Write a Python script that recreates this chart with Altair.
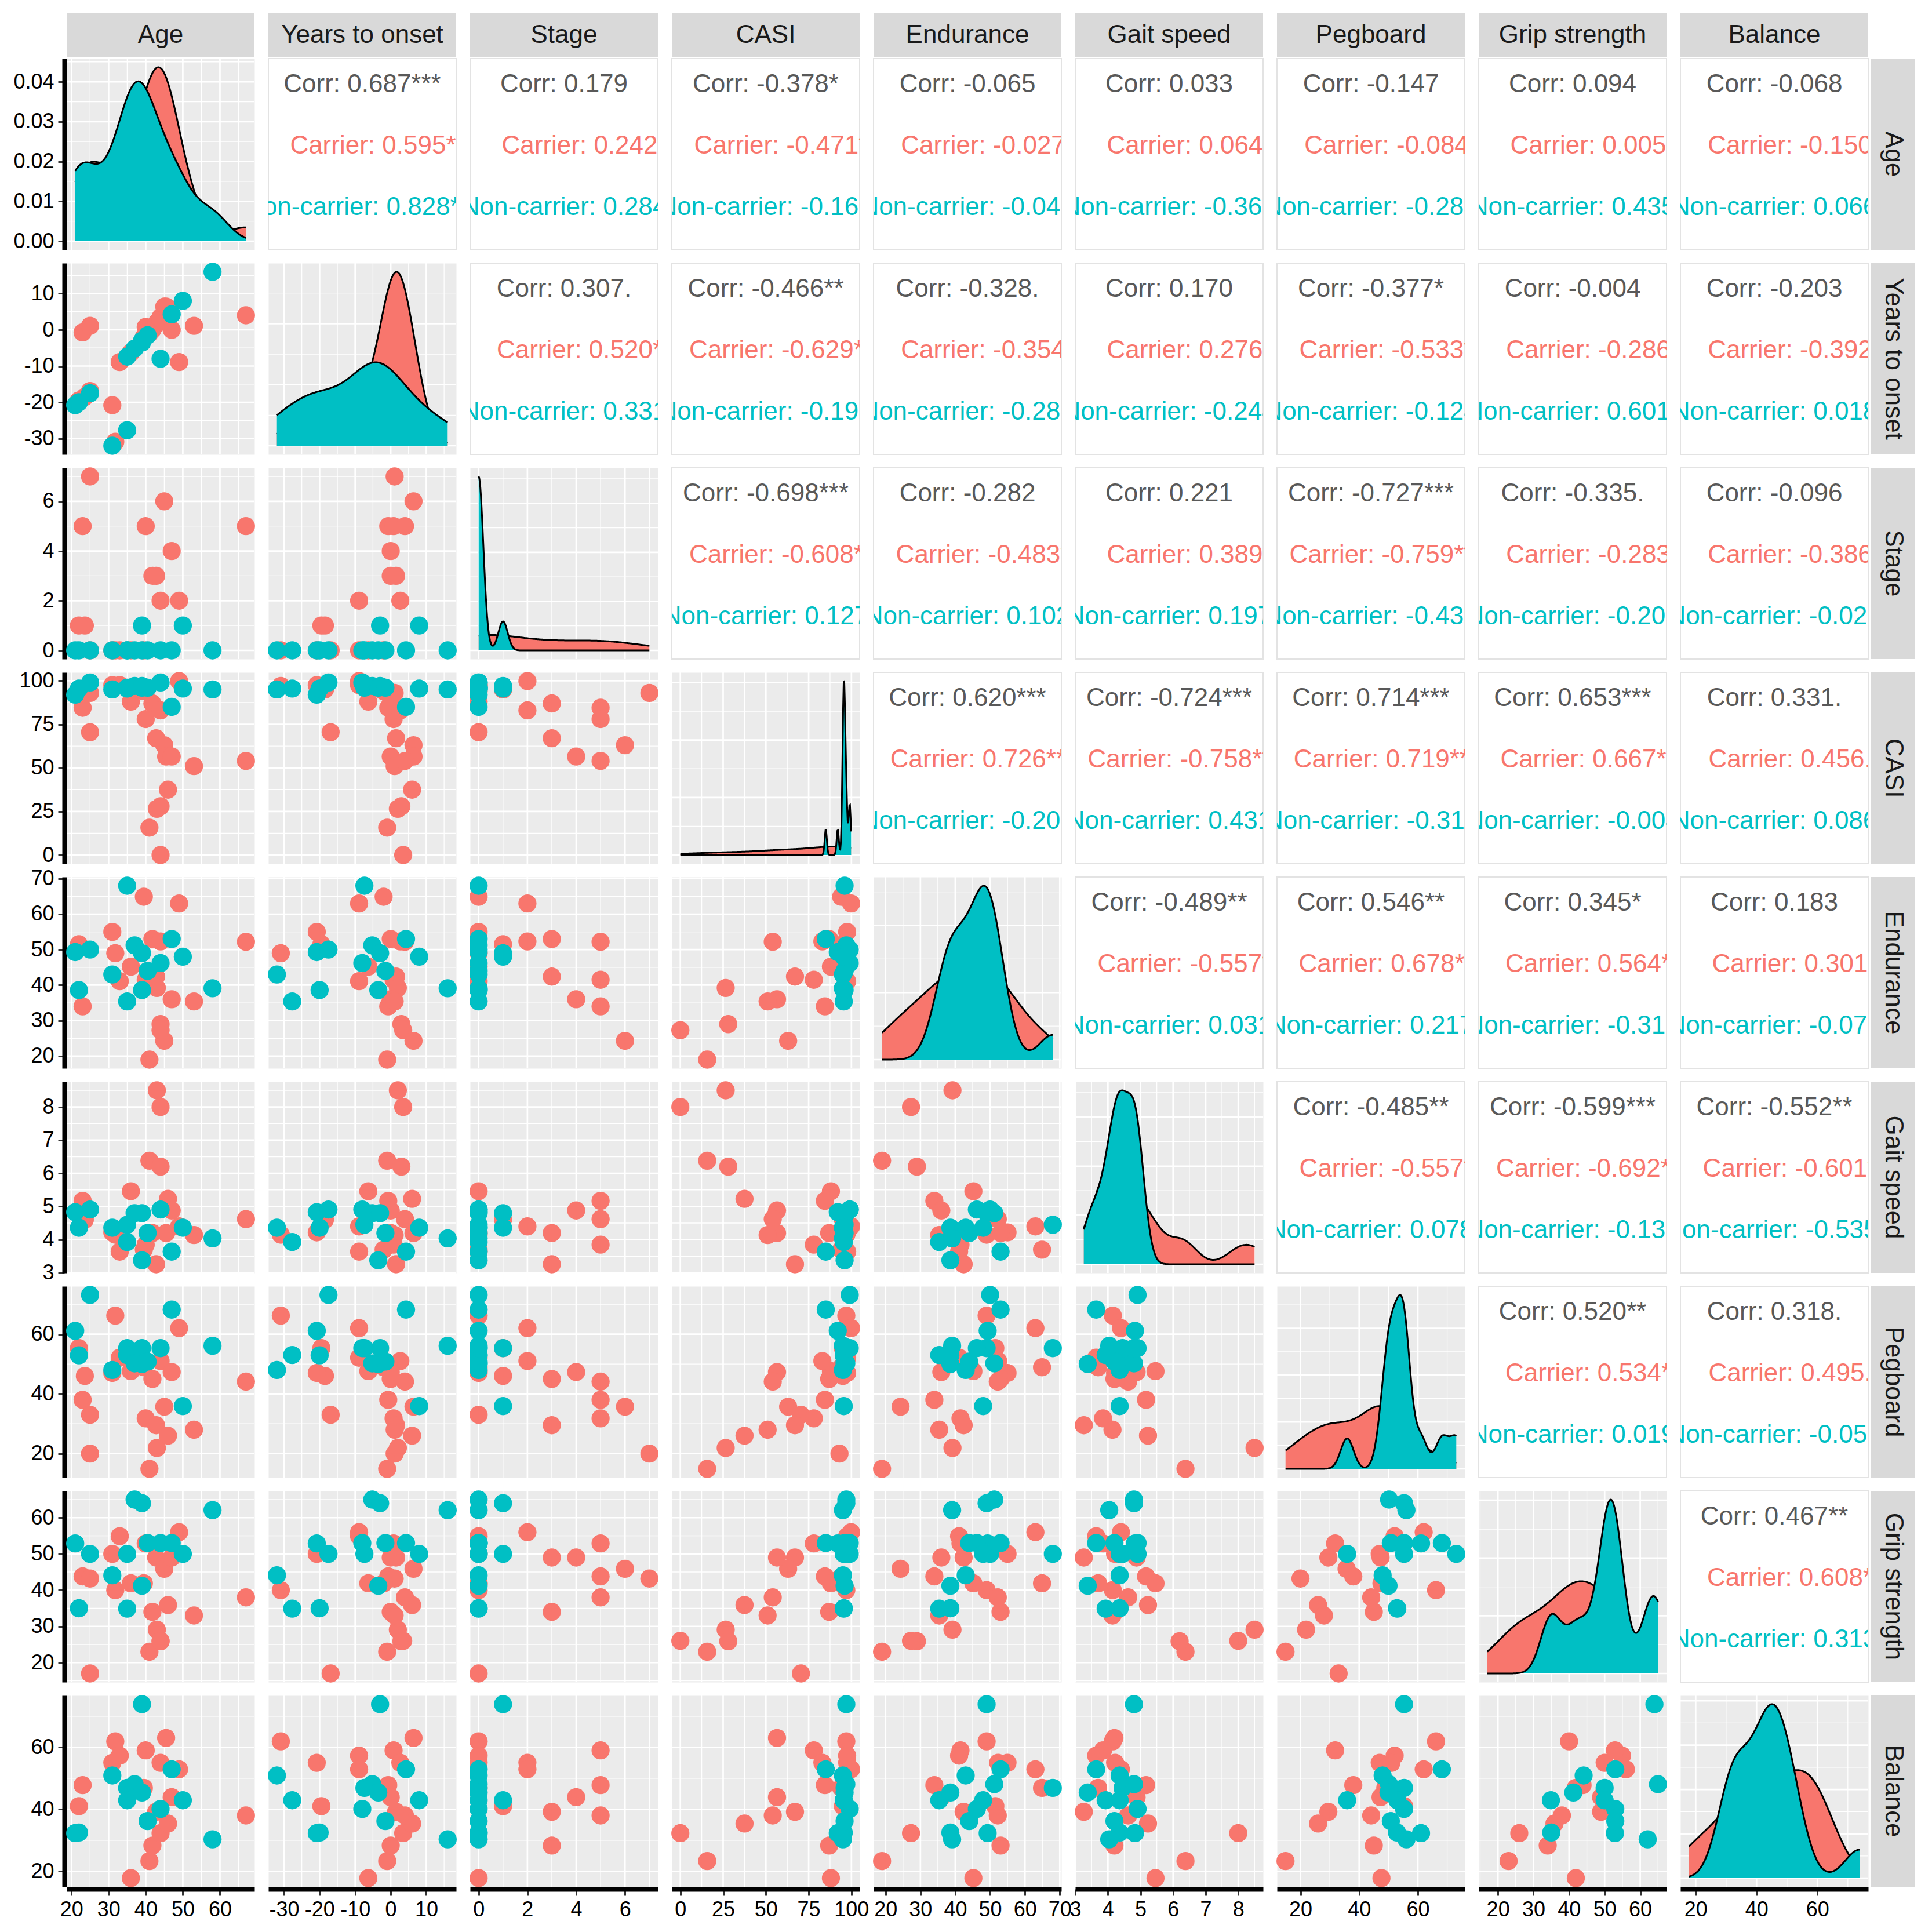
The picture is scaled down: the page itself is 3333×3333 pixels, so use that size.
import altair as alt
import numpy as np
import pandas as pd

FONT = "Liberation Sans"
RED = "#F8766D"
TEAL = "#00BFC4"
GREY_TXT = "#595959"
STRIP_FILL = "#D9D9D9"
PANEL_BG = "#EBEBEB"
GROUPS = ["Carrier", "Non-carrier"]

VAR_NAMES = ["Age", "Years to onset", "Stage", "CASI", "Endurance",
             "Gait speed", "Pegboard", "Grip strength", "Balance"]
FIELDS = ["age", "yto", "stage", "casi", "endur", "gait", "peg", "grip", "bal"]

nan = float("nan")

# ---- subject values (25 carriers, 14 non-carriers) ----
group = ["Carrier"] * 25 + ["Non-carrier"] * 14
age = [23, 25, 23.6, 22, 25,
       31, 31.8, 33, 36, 39.5, 40, 41, 41.8, 42.8, 43, 44, 44, 44, 45, 45.5, 46, 47, 49, 53, 67,
       21, 22, 25, 31, 35, 35, 37, 39, 39, 40.5, 44, 47, 50, 58]
yto = [-0.7, 1.1, -18.5, -19.5, -16.9,
       -20.8, -30.9, -8.9, -6.3, -2, 0.8, -1, 0, 1.5, 2, 2.7, 3, 3.5, 6.4, 6.4, 6, 0, -8.9, 1.1, 4,
       -20.8, -20, -17.5, -32, -7.4, -27.7, -5.2, -3, -3.5, -1.5, -8, 4.3, 8, 16]
stage = [5, 7, 1, 1, 0,
         0, 0, 0, 0, 0, 5, nan, 3, 3, nan, 2, nan, nan, 6, nan, nan, 4, 2, nan, 5,
         0, 0, 0, 0, 0, 0, 0, 1, 0, 0, 0, 0, 1, 0]
casi = [84.5, 93, 95, 95, 70.5,
        97.5, 97, 97.5, 88, 94, 78, 15.7, 87, 67, 26.5, 83, 28, 0, 63, 56.5, 37.5, 56.5, 99.8, 51, 54,
        92, 95.5, 99, 95, 96, 95.5, 97, 97, 96, 96, 99, 85, 95.5, 95]
endur = [34, nan, nan, 51.5, nan,
         55, 49, 41.1, 45.2, 64.9, 41.5, 19, 53, 42.4, 39.2, 52.3, 29, 27.3, 24.3, nan, nan, 36, 63, 35.4, 52.2,
         49.3, 38.6, 50, 43, 68, 35.4, 51.2, 49, 38.6, 44, 46.2, 53, 48, 39.1]
gait = [5.17, nan, 4.6, nan, nan,
        4.22, 4.15, 3.64, 5.46, 3.7, 3.85, 6.38, 4.2, 3.26, 8.5, nan, 6.2, 8.0, nan, 4.2, 5.23, 4.88, 4.4, 4.14, 4.62,
        4.83, 4.36, 4.91, 4.36, 4.45, 3.93, 4.8, 4.8, 3.38, 4.2, 4.91, 3.64, 4.36, 4.04]
peg = [38, 20, 46, 55.3, 33,
       47, 66.2, 52.1, 47.6, 48.9, 31.8, 14.9, 45, 29.5, 21.9, 51, nan, nan, 35.7, nan, 26, 47.3, 62, 28, 44.1,
       61.1, 52.9, 73.1, 48, 55.3, 53, 50.2, 55.3, 50, 50.8, 55.3, 68.2, 35.9, 56.1]
grip = [43.8, 43.2, nan, nan, 17,
        50, 40, 54.9, 41.9, 41.9, 52.9, 23, 34, 49, 29.1, nan, 25.9, 26, 45.9, nan, 35.9, 49, 56, 33, 38,
        52.9, 35, 50, 44.1, 50, 34.9, 65, 64, 41.2, 53, 53, 53, 50, 62.1]
bal = [47.8, nan, nan, 41, nan,
       55, 61.9, 57.3, 17.8, 46.9, 59, 23.3, 28.3, 39.2, nan, 55, nan, 32.3, nan, 63, 35.4, 43.9, 52.9, nan, 38,
       32.3, 32.5, nan, 50.9, 46.9, 42.9, 48.1, 73.9, 45.4, 36.2, 40.1, 52.9, 42.9, 30.3]

# ---- axis break labels ----
MAJOR = {
    "age": [20, 30, 40, 50, 60],
    "yto": [-30, -20, -10, 0, 10],
    "stage": [0, 2, 4, 6],
    "casi": [0, 25, 50, 75, 100],
    "endur": [20, 30, 40, 50, 60, 70],
    "gait": [3, 4, 5, 6, 7, 8],
    "peg": [20, 40, 60],
    "grip": [20, 30, 40, 50, 60],
    "bal": [20, 40, 60],
}
DENS_TICKS_AGE = [0.00, 0.01, 0.02, 0.03, 0.04]

# ---- correlation texts (upper triangle) ----
CORR_ALL = {
    (0, 1): "0.687***", (0, 2): "0.179", (0, 3): "-0.378*", (0, 4): "-0.065", (0, 5): "0.033",
    (0, 6): "-0.147", (0, 7): "0.094", (0, 8): "-0.068",
    (1, 2): "0.307.", (1, 3): "-0.466**", (1, 4): "-0.328.", (1, 5): "0.170", (1, 6): "-0.377*",
    (1, 7): "-0.004", (1, 8): "-0.203",
    (2, 3): "-0.698***", (2, 4): "-0.282", (2, 5): "0.221", (2, 6): "-0.727***", (2, 7): "-0.335.",
    (2, 8): "-0.096",
    (3, 4): "0.620***", (3, 5): "-0.724***", (3, 6): "0.714***", (3, 7): "0.653***", (3, 8): "0.331.",
    (4, 5): "-0.489**", (4, 6): "0.546**", (4, 7): "0.345*", (4, 8): "0.183",
    (5, 6): "-0.485**", (5, 7): "-0.599***", (5, 8): "-0.552**",
    (6, 7): "0.520**", (6, 8): "0.318.",
    (7, 8): "0.467**",
}
CORR_CAR = {
    (0, 1): "0.595**", (0, 2): "0.242", (0, 3): "-0.471*", (0, 4): "-0.027", (0, 5): "0.064",
    (0, 6): "-0.084", (0, 7): "0.005", (0, 8): "-0.150",
    (1, 2): "0.520*", (1, 3): "-0.629**", (1, 4): "-0.354", (1, 5): "0.276", (1, 6): "-0.533*",
    (1, 7): "-0.286", (1, 8): "-0.392",
    (2, 3): "-0.608**", (2, 4): "-0.483*", (2, 5): "0.389", (2, 6): "-0.759***", (2, 7): "-0.283",
    (2, 8): "-0.386",
    (3, 4): "0.726***", (3, 5): "-0.758***", (3, 6): "0.719***", (3, 7): "0.667**", (3, 8): "0.456.",
    (4, 5): "-0.557*", (4, 6): "0.678**", (4, 7): "0.564*", (4, 8): "0.301",
    (5, 6): "-0.557*", (5, 7): "-0.692**", (5, 8): "-0.601*",
    (6, 7): "0.534*", (6, 8): "0.495.",
    (7, 8): "0.608*",
}
CORR_NON = {
    (0, 1): "0.828***", (0, 2): "0.284", (0, 3): "-0.160", (0, 4): "-0.045", (0, 5): "-0.362",
    (0, 6): "-0.283", (0, 7): "0.435", (0, 8): "0.066",
    (1, 2): "0.331", (1, 3): "-0.192", (1, 4): "-0.283", (1, 5): "-0.244", (1, 6): "-0.124",
    (1, 7): "0.601*", (1, 8): "0.018",
    (2, 3): "0.127", (2, 4): "0.102", (2, 5): "0.197", (2, 6): "-0.439", (2, 7): "-0.205",
    (2, 8): "-0.025",
    (3, 4): "-0.208", (3, 5): "0.431", (3, 6): "-0.311", (3, 7): "-0.004", (3, 8): "0.086",
    (4, 5): "0.031", (4, 6): "0.217", (4, 7): "-0.312", (4, 8): "-0.075",
    (5, 6): "0.078", (5, 7): "-0.139", (5, 8): "-0.535.",
    (6, 7): "0.019", (6, 8): "-0.055",
    (7, 8): "0.313",
}

df = pd.DataFrame({"grp": group, "age": age, "yto": yto, "stage": stage, "casi": casi,
                   "endur": endur, "gait": gait, "peg": peg, "grip": grip, "bal": bal})
df["ord"] = np.arange(len(df))

# ---- layout / style constants ----
W, H = 324, 330
PT = 980
MAJOR_W, MINOR_W = 2.7, 1.3
TXT_SIZE = 44
TICK_SIZE = 36
STEPS = 300
CARRIER_DX = 27   # group labels are right-justified against "Non-carrier"


def dom(s):
    s = pd.Series(s).dropna()
    lo, hi = float(s.min()), float(s.max())
    r = (hi - lo) or 1.0
    return [lo - 0.05 * r, hi + 0.05 * r]


def minor_of(maj):
    step = maj[1] - maj[0]
    return [m - step / 2 for m in maj] + [maj[-1] + step / 2]


def bw_nrd0(x):
    x = np.asarray(x, float)
    hi = np.std(x, ddof=1)
    q75, q25 = np.percentile(x, [75, 25])
    lo = min(hi, (q75 - q25) / 1.34)
    if lo == 0:
        lo = hi or abs(x[0]) or 1.0
    return 0.9 * lo * len(x) ** (-0.2)


def kde(vals, bw, grid):
    v = np.asarray(vals, float)[:, None]
    return np.exp(-0.5 * ((grid[None, :] - v) / bw) ** 2).sum(0) / (len(vals) * bw * np.sqrt(2 * np.pi))


def nice_breaks(hi):
    raw = hi / 5
    mag = 10 ** np.floor(np.log10(raw))
    step = mag
    for m in (1, 2, 2.5, 5, 10):
        if m * mag >= raw:
            step = m * mag
            break
    n = int(np.floor(hi * 1.05 / step)) + 1
    return [round(k * step, 10) for k in range(n)]


def axis_common(**kw):
    base = dict(title=None, grid=False, domain=True, domainColor="black", domainWidth=8,
                offset=4, ticks=True, tickColor="#333333", tickWidth=3, tickSize=11,
                labelFontSize=TICK_SIZE, labelColor="black", labelFont=FONT, labelPadding=7,
                labelFlush=False, labelOverlap=False)
    base.update(kw)
    return alt.Axis(**base)


def var_axis(f):
    kw = dict(values=MAJOR[f])
    if f == "yto":
        kw["labelExpr"] = "datum.value < 0 ? '-' + toString(-datum.value) : toString(datum.value)"
    else:
        kw["format"] = "d"
    return axis_common(**kw)


def X(field, sc, ax):
    if ax is None:
        return alt.X(field, scale=sc, axis=None)
    return alt.X(field, scale=sc, axis=ax)


def Y(field, sc, ax):
    if ax is None:
        return alt.Y(field, scale=sc, axis=None)
    return alt.Y(field, scale=sc, axis=ax)


def grid_layers(fx, xs, xd, xmaj, xax, fy, ys, yd, ymaj, yax):
    out = []
    specs = [("x", fx, xs, xd, minor_of(xmaj), MINOR_W, xax), ("y", fy, ys, yd, minor_of(ymaj), MINOR_W, yax),
             ("x", fx, xs, xd, xmaj, MAJOR_W, xax), ("y", fy, ys, yd, ymaj, MAJOR_W, yax)]
    for ch, f, sc, d, vals, w, ax in specs:
        v = [b for b in vals if d[0] <= b <= d[1]]
        if not v:
            continue
        base = alt.Chart(pd.DataFrame({f: v})).mark_rule(color="white", strokeWidth=w)
        if ch == "x":
            out.append(base.encode(x=X(f"{f}:Q", sc, ax)))
        else:
            out.append(base.encode(y=Y(f"{f}:Q", sc, ax)))
    return out


def scatter_layers(i, j):
    fx, fy = FIELDS[j], FIELDS[i]
    # like ggplot, each scale is trained on the whole variable
    xd, yd = dom(df[fx]), dom(df[fy])
    sub = df[[fx, fy, "grp", "ord"]].dropna(subset=[fx, fy])
    xs = alt.Scale(domain=xd, nice=False, zero=False)
    ys = alt.Scale(domain=yd, nice=False, zero=False)
    xax = var_axis(fx) if i == 8 else None
    yax = var_axis(fy) if j == 0 else None
    layers = grid_layers(fx, xs, xd, MAJOR[fx], xax, fy, ys, yd, MAJOR[fy], yax)
    pts = alt.Chart(sub).mark_circle(size=PT, opacity=1).encode(
        x=X(f"{fx}:Q", xs, xax),
        y=Y(f"{fy}:Q", ys, yax),
        color=alt.Color("grp:N", scale=alt.Scale(domain=GROUPS, range=[RED, TEAL]), legend=None),
        order=alt.Order("ord:Q"),
    )
    layers.append(pts)
    return layers


def diag_layers(k):
    f = FIELDS[k]
    sub = df[[f, "grp"]].dropna(subset=[f])
    lo, hi = float(sub[f].min()), float(sub[f].max())
    xd = dom(sub[f])
    gx = np.linspace(lo, hi, STEPS)
    bws = {}
    ymax = 0.0
    for g in GROUPS:
        vals = sub.loc[sub.grp == g, f].to_numpy()
        bws[g] = float(bw_nrd0(vals))
        ymax = max(ymax, float(kde(vals, bws[g], gx).max()))
    yd = [-0.05 * ymax, 1.05 * ymax]
    xs = alt.Scale(domain=xd, nice=False, zero=False)
    ys = alt.Scale(domain=yd, nice=False, zero=False)
    ymaj = nice_breaks(ymax)
    xax = var_axis(f) if k == 8 else None
    yax = axis_common(values=DENS_TICKS_AGE, format=".2f") if k == 0 else None
    layers = grid_layers(f, xs, xd, MAJOR[f], xax, "density", ys, yd, ymaj, yax)
    for g, col in zip(GROUPS, [RED, TEAL]):
        base = (alt.Chart(sub).transform_filter(alt.datum.grp == g)
                .transform_density(f, as_=[f, "density"], extent=[lo, hi], bandwidth=bws[g], steps=STEPS))
        area = base.mark_area(color=col, opacity=1).encode(
            x=X(f"{f}:Q", xs, xax),
            y=Y("density:Q", ys, yax),
            y2=alt.datum(0),
        )
        line = base.mark_line(color="black", strokeWidth=3).encode(
            x=X(f"{f}:Q", xs, xax),
            y=Y("density:Q", ys, yax),
        )
        layers += [area, line]
    return layers


def text_layers(i, j):
    strings = ["Corr: " + CORR_ALL[(i, j)],
               "Carrier: " + CORR_CAR[(i, j)],
               "Non-carrier: " + CORR_NON[(i, j)]]
    out = []
    for s, frac, col, dx in zip(strings, [0.136, 0.457, 0.779], [GREY_TXT, RED, TEAL],
                                [0, CARRIER_DX, 0]):
        out.append(alt.Chart(pd.DataFrame({"label": [s]})).mark_text(
            font=FONT, fontSize=TXT_SIZE, color=col, clip=True, align="center", baseline="middle",
            dx=dx
        ).encode(text="label:N", x=alt.value(W / 2), y=alt.value(frac * H)))
    return out


def top_strip(name):
    d = pd.DataFrame({"label": [name]})
    rect = alt.Chart(d).mark_rect(color=STRIP_FILL).encode(
        x=alt.value(0), x2=alt.value(W), y=alt.value(-79), y2=alt.value(-2))
    txt = alt.Chart(d).mark_text(font=FONT, fontSize=TXT_SIZE, color="#1A1A1A",
                                 align="center", baseline="middle").encode(
        text="label:N", x=alt.value(W / 2), y=alt.value(-40.5))
    return [rect, txt]


def right_strip(name):
    d = pd.DataFrame({"label": [name]})
    rect = alt.Chart(d).mark_rect(color=STRIP_FILL).encode(
        x=alt.value(W + 4), x2=alt.value(W + 81), y=alt.value(0), y2=alt.value(H))
    txt = alt.Chart(d).mark_text(font=FONT, fontSize=TXT_SIZE, color="#1A1A1A", angle=90,
                                 align="center", baseline="middle").encode(
        text="label:N", x=alt.value(W + 42.5), y=alt.value(H / 2))
    return [rect, txt]


cells = []
for i in range(9):
    for j in range(9):
        if i == j:
            layers = diag_layers(i)
            view = alt.ViewBackground(fill=PANEL_BG, stroke="transparent")
        elif i > j:
            layers = scatter_layers(i, j)
            view = alt.ViewBackground(fill=PANEL_BG, stroke="transparent")
        else:
            layers = text_layers(i, j)
            view = alt.ViewBackground(fill="white", stroke="#E3E3E3", strokeWidth=2)
        if i == 0:
            layers += top_strip(VAR_NAMES[j])
        if j == 8:
            layers += right_strip(VAR_NAMES[i])
        cells.append(alt.layer(*layers).properties(width=W, height=H, view=view))

chart = (
    alt.concat(*cells, columns=9)
    .resolve_scale(x="independent", y="independent")
    .properties(spacing={"row": 23, "column": 24}, bounds="flush",
                padding={"left": 22, "top": 21, "right": 5, "bottom": 5},
                background="white")
    .configure(font=FONT)
)

chart.save("out.html", embed_options={"renderer": "svg", "actions": False})
